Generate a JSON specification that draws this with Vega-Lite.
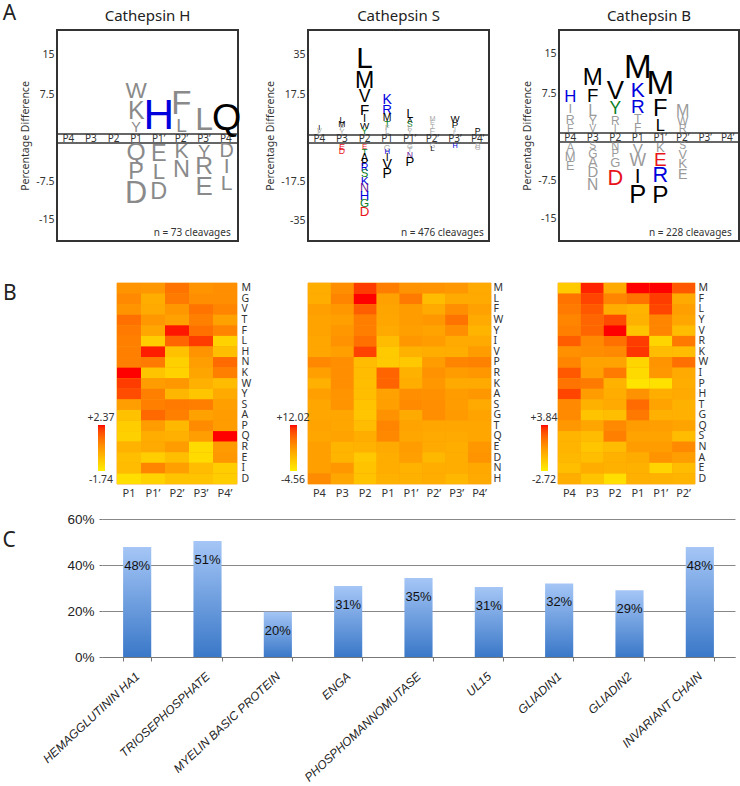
{"$schema":"https://vega.github.io/schema/vega-lite/v6.json","padding":{"left":2,"top":3,"right":0,"bottom":0},"background":"white","spacing":14,"resolve":{"scale":{"color":"independent","size":"independent"}},"config":{"view":{"stroke":null},"title":{"font":"Noto Sans","fontSize":15,"fontWeight":"normal","color":"#222","offset":6},"axis":{"labelFont":"Noto Sans","titleFont":"Noto Sans","labelColor":"#333","titleColor":"#333","titleFontWeight":"normal"},"legend":{"labelFont":"Noto Sans","labelColor":"#333","labelFontSize":10.5}},
"datasets":{
"strip":[{"pos":"P4","y":0},{"pos":"P3","y":0},{"pos":"P2","y":0},{"pos":"P1","y":0},{"pos":"P1’","y":0},{"pos":"P2’","y":0},{"pos":"P3’","y":0},{"pos":"P4’","y":0}],
"edges":[{"y":0.01},{"y":-0.01}],
"logoH":[
{"pos":"P1","letter":"W","y":8.07,"h":3.0,"group":"ns"},{"pos":"P1","letter":"K","y":4.13,"h":3.38,"group":"ns"},{"pos":"P1","letter":"Y","y":1.22,"h":1.69,"group":"ns"},{"pos":"P1","letter":"Q","y":-2.06,"h":3.33,"group":"ns"},{"pos":"P1","letter":"P","y":-5.69,"h":3.14,"group":"ns"},{"pos":"P1","letter":"D","y":-10,"h":4.31,"group":"ns"},
{"pos":"P1’","letter":"H","y":3.47,"h":6.19,"group":"basic"},{"pos":"P1’","letter":"E","y":-2.16,"h":3.14,"group":"ns"},{"pos":"P1’","letter":"L","y":-5.78,"h":2.94,"group":"ns"},{"pos":"P1’","letter":"D","y":-9.61,"h":3.14,"group":"ns"},
{"pos":"P2’","letter":"F","y":5.72,"h":4.69,"group":"ns"},{"pos":"P2’","letter":"L","y":1.59,"h":2.44,"group":"ns"},{"pos":"P2’","letter":"K","y":-1.76,"h":2.75,"group":"ns"},{"pos":"P2’","letter":"N","y":-5.29,"h":3.14,"group":"ns"},
{"pos":"P3’","letter":"L","y":2.63,"h":4.5,"group":"ns"},{"pos":"P3’","letter":"Y","y":-1.76,"h":2.35,"group":"ns"},{"pos":"P3’","letter":"R","y":-4.8,"h":3.33,"group":"ns"},{"pos":"P3’","letter":"E","y":-8.63,"h":3.53,"group":"ns"},
{"pos":"P4’","letter":"Q","y":2.91,"h":5.44,"group":"other"},{"pos":"P4’","letter":"D","y":-1.67,"h":2.55,"group":"ns"},{"pos":"P4’","letter":"I","y":-4.71,"h":2.75,"group":"ns"},{"pos":"P4’","letter":"L","y":-8.04,"h":2.75,"group":"ns"}],
"logoS":[
{"pos":"P4","letter":"I","y":2.97,"h":1.0,"group":"other"},{"pos":"P4","letter":"V","y":1.75,"h":0.9,"group":"ns"},{"pos":"P4","letter":"L","y":0.87,"h":0.8,"group":"ns"},
{"pos":"P3","letter":"L","y":6.55,"h":1.48,"group":"other"},{"pos":"P3","letter":"M","y":4.67,"h":1.44,"group":"other"},{"pos":"P3","letter":"F","y":2.93,"h":1.18,"group":"ns"},{"pos":"P3","letter":"Y","y":1.31,"h":1.14,"group":"ns"},{"pos":"P3","letter":"E","y":-1.88,"h":1.66,"group":"acidic"},{"pos":"P3","letter":"D","y":-3.72,"h":1.48,"group":"acidic"},
{"pos":"P2","letter":"L","y":33.2,"h":9.87,"group":"other"},{"pos":"P2","letter":"M","y":23.58,"h":7.25,"group":"other"},{"pos":"P2","letter":"V","y":16.68,"h":5.1,"group":"other"},{"pos":"P2","letter":"F","y":11.05,"h":4.06,"group":"other"},{"pos":"P2","letter":"I","y":7.07,"h":2.5,"group":"other"},{"pos":"P2","letter":"W","y":4.15,"h":1.92,"group":"other"},{"pos":"P2","letter":"Y","y":1.66,"h":1.88,"group":"polar"},
{"pos":"P2","letter":"E","y":-1.79,"h":1.17,"group":"acidic"},{"pos":"P2","letter":"T","y":-3.9,"h":1.8,"group":"polar"},{"pos":"P2","letter":"A","y":-6.64,"h":2.24,"group":"other"},{"pos":"P2","letter":"P","y":-9.1,"h":2.1,"group":"other"},{"pos":"P2","letter":"R","y":-11.43,"h":2.24,"group":"basic"},{"pos":"P2","letter":"S","y":-14.04,"h":2.38,"group":"polar"},{"pos":"P2","letter":"K","y":-17.17,"h":2.69,"group":"basic"},{"pos":"P2","letter":"N","y":-20.31,"h":3.0,"group":"amide"},{"pos":"P2","letter":"H","y":-23.9,"h":3.27,"group":"basic"},{"pos":"P2","letter":"G","y":-27.35,"h":2.69,"group":"polar"},{"pos":"P2","letter":"D","y":-31.39,"h":3.32,"group":"acidic"},
{"pos":"P1","letter":"K","y":15.2,"h":3.62,"group":"basic"},{"pos":"P1","letter":"R","y":11.0,"h":3.36,"group":"basic"},{"pos":"P1","letter":"M","y":7.51,"h":2.18,"group":"other"},{"pos":"P1","letter":"T","y":5.02,"h":1.92,"group":"polar"},{"pos":"P1","letter":"F","y":2.97,"h":1.0,"group":"ns"},{"pos":"P1","letter":"L","y":1.4,"h":1.31,"group":"ns"},{"pos":"P1","letter":"G","y":-2.38,"h":1.48,"group":"ns"},{"pos":"P1","letter":"H","y":-4.26,"h":1.08,"group":"basic"},{"pos":"P1","letter":"I","y":-6.64,"h":2.24,"group":"other"},{"pos":"P1","letter":"V","y":-9.96,"h":3.72,"group":"other"},{"pos":"P1","letter":"P","y":-14.04,"h":3.59,"group":"other"},
{"pos":"P1’","letter":"L","y":9.04,"h":2.93,"group":"other"},{"pos":"P1’","letter":"A","y":6.24,"h":1.18,"group":"other"},{"pos":"P1’","letter":"S","y":4.28,"h":1.31,"group":"polar"},{"pos":"P1’","letter":"F","y":2.51,"h":1,"group":"ns"},{"pos":"P1’","letter":"Y","y":1.22,"h":1,"group":"ns"},{"pos":"P1’","letter":"G","y":-1.7,"h":1.03,"group":"ns"},{"pos":"P1’","letter":"T","y":-3.05,"h":1,"group":"ns"},{"pos":"P1’","letter":"N","y":-5.52,"h":1.48,"group":"amide"},{"pos":"P1’","letter":"P","y":-8.65,"h":3.27,"group":"other"},
{"pos":"P2’","letter":"M","y":6.86,"h":0.9,"group":"ns"},{"pos":"P2’","letter":"E","y":5.11,"h":1,"group":"ns"},{"pos":"P2’","letter":"I","y":3.49,"h":1,"group":"ns"},{"pos":"P2’","letter":"F","y":1.62,"h":1.75,"group":"ns"},{"pos":"P2’","letter":"G","y":-1.57,"h":1,"group":"ns"},{"pos":"P2’","letter":"L","y":-2.83,"h":1.2,"group":"other"},
{"pos":"P3’","letter":"W","y":7.07,"h":1.88,"group":"other"},{"pos":"P3’","letter":"P","y":4.45,"h":1.88,"group":"other"},{"pos":"P3’","letter":"I","y":2.18,"h":0.9,"group":"ns"},{"pos":"P3’","letter":"L","y":1,"h":0.8,"group":"ns"},{"pos":"P3’","letter":"H","y":-1.35,"h":0.9,"group":"basic"},
{"pos":"P4’","letter":"P","y":1.75,"h":1.48,"group":"other"},{"pos":"P4’","letter":"D","y":-1.35,"h":0.8,"group":"ns"},{"pos":"P4’","letter":"G","y":-2.33,"h":1,"group":"ns"}],
"logoB":[
{"pos":"P4","letter":"H","y":6.83,"h":2.2,"group":"basic"},{"pos":"P4","letter":"I","y":4.62,"h":1.58,"group":"ns"},{"pos":"P4","letter":"R","y":2.49,"h":1.45,"group":"ns"},{"pos":"P4","letter":"F","y":0.75,"h":1.13,"group":"ns"},{"pos":"P4","letter":"A","y":-1.17,"h":1.44,"group":"ns"},{"pos":"P4","letter":"M","y":-2.92,"h":1.56,"group":"ns"},{"pos":"P4","letter":"E","y":-4.78,"h":1.48,"group":"ns"},
{"pos":"P3","letter":"M","y":10.4,"h":3.45,"group":"other"},{"pos":"P3","letter":"F","y":6.98,"h":2.53,"group":"other"},{"pos":"P3","letter":"L","y":4.25,"h":2.08,"group":"ns"},{"pos":"P3","letter":"Y","y":2.2,"h":1.38,"group":"ns"},{"pos":"P3","letter":"V","y":0.75,"h":1.13,"group":"ns"},{"pos":"P3","letter":"S","y":-0.88,"h":1.09,"group":"ns"},{"pos":"P3","letter":"G","y":-2.38,"h":1.36,"group":"ns"},{"pos":"P3","letter":"A","y":-4.15,"h":1.7,"group":"ns"},{"pos":"P3","letter":"D","y":-6.14,"h":1.87,"group":"ns"},{"pos":"P3","letter":"N","y":-8.42,"h":2.01,"group":"ns"},
{"pos":"P2","letter":"V","y":7.92,"h":3.77,"group":"other"},{"pos":"P2","letter":"Y","y":4.57,"h":2.32,"group":"polar"},{"pos":"P2","letter":"R","y":2.32,"h":1.38,"group":"ns"},{"pos":"P2","letter":"I","y":0.79,"h":1.08,"group":"ns"},{"pos":"P2","letter":"N","y":-0.94,"h":1.23,"group":"ns"},{"pos":"P2","letter":"P","y":-2.44,"h":1.25,"group":"ns"},{"pos":"P2","letter":"G","y":-4.09,"h":1.56,"group":"ns"},{"pos":"P2","letter":"D","y":-7.06,"h":3.06,"group":"acidic"},
{"pos":"P1","letter":"M","y":12.32,"h":5.03,"group":"other"},{"pos":"P1","letter":"K","y":8.02,"h":2.94,"group":"basic"},{"pos":"P1","letter":"R","y":4.94,"h":2.58,"group":"basic"},{"pos":"P1","letter":"T","y":2.68,"h":1.45,"group":"ns"},{"pos":"P1","letter":"F","y":0.94,"h":1.4,"group":"ns"},{"pos":"P1","letter":"V","y":-1.31,"h":1.95,"group":"ns"},{"pos":"P1","letter":"W","y":-3.7,"h":2.34,"group":"ns"},{"pos":"P1","letter":"I","y":-6.78,"h":2.92,"group":"other"},{"pos":"P1","letter":"P","y":-10.43,"h":3.7,"group":"other"},
{"pos":"P1’","letter":"M","y":9.19,"h":5.04,"group":"other"},{"pos":"P1’","letter":"F","y":4.47,"h":3.4,"group":"other"},{"pos":"P1’","letter":"L","y":1.32,"h":2.15,"group":"other"},{"pos":"P1’","letter":"K","y":-1.11,"h":1.56,"group":"ns"},{"pos":"P1’","letter":"E","y":-3.57,"h":2.59,"group":"acidic"},{"pos":"P1’","letter":"R","y":-6.73,"h":3.04,"group":"basic"},{"pos":"P1’","letter":"P","y":-10.53,"h":3.51,"group":"other"},
{"pos":"P2’","letter":"M","y":4.25,"h":2.08,"group":"ns"},{"pos":"P2’","letter":"W","y":2.32,"h":1.38,"group":"ns"},{"pos":"P2’","letter":"R","y":0.85,"h":1.2,"group":"ns"},{"pos":"P2’","letter":"S","y":-0.88,"h":1.09,"group":"ns"},{"pos":"P2’","letter":"V","y":-2.5,"h":1.5,"group":"ns"},{"pos":"P2’","letter":"K","y":-4.39,"h":1.64,"group":"ns"},{"pos":"P2’","letter":"E","y":-6.39,"h":1.75,"group":"ns"}],
"heatH":[
{"pos":"P1","aa":"M","v":0.4},{"pos":"P1’","aa":"M","v":0.32},{"pos":"P2’","aa":"M","v":1.05},{"pos":"P3’","aa":"M","v":0.4},{"pos":"P4’","aa":"M","v":0.52},
{"pos":"P1","aa":"G","v":0.64},{"pos":"P1’","aa":"G","v":-0.18},{"pos":"P2’","aa":"G","v":0.93},{"pos":"P3’","aa":"G","v":0.52},{"pos":"P4’","aa":"G","v":0.52},
{"pos":"P1","aa":"V","v":0.4},{"pos":"P1’","aa":"V","v":-0.1},{"pos":"P2’","aa":"V","v":0.32},{"pos":"P3’","aa":"V","v":1.05},{"pos":"P4’","aa":"V","v":0.73},
{"pos":"P1","aa":"T","v":1.14},{"pos":"P1’","aa":"T","v":0.32},{"pos":"P2’","aa":"T","v":0.11},{"pos":"P3’","aa":"T","v":0.81},{"pos":"P4’","aa":"T","v":0.11},
{"pos":"P1","aa":"F","v":0.93},{"pos":"P1’","aa":"F","v":-0.01},{"pos":"P2’","aa":"F","v":2.29},{"pos":"P3’","aa":"F","v":1.14},{"pos":"P4’","aa":"F","v":0.73},
{"pos":"P1","aa":"L","v":0.81},{"pos":"P1’","aa":"L","v":-0.92},{"pos":"P2’","aa":"L","v":1.34},{"pos":"P3’","aa":"L","v":1.96},{"pos":"P4’","aa":"L","v":-1.04},
{"pos":"P1","aa":"H","v":0.81},{"pos":"P1’","aa":"H","v":2.25},{"pos":"P2’","aa":"H","v":-0.63},{"pos":"P3’","aa":"H","v":0.4},{"pos":"P4’","aa":"H","v":-0.59},
{"pos":"P1","aa":"N","v":0.81},{"pos":"P1’","aa":"N","v":0.93},{"pos":"P2’","aa":"N","v":-1.0},{"pos":"P3’","aa":"N","v":0.19},{"pos":"P4’","aa":"N","v":1.22},
{"pos":"P1","aa":"K","v":2.37},{"pos":"P1’","aa":"K","v":-0.71},{"pos":"P2’","aa":"K","v":-1.04},{"pos":"P3’","aa":"K","v":0.03},{"pos":"P4’","aa":"K","v":0.81},
{"pos":"P1","aa":"W","v":1.96},{"pos":"P1’","aa":"W","v":0.23},{"pos":"P2’","aa":"W","v":0.32},{"pos":"P3’","aa":"W","v":-0.22},{"pos":"P4’","aa":"W","v":-0.51},
{"pos":"P1","aa":"Y","v":1.75},{"pos":"P1’","aa":"Y","v":0.81},{"pos":"P2’","aa":"Y","v":-0.38},{"pos":"P3’","aa":"Y","v":-0.75},{"pos":"P4’","aa":"Y","v":-0.1},
{"pos":"P1","aa":"S","v":0.19},{"pos":"P1’","aa":"S","v":0.81},{"pos":"P2’","aa":"S","v":0.93},{"pos":"P3’","aa":"S","v":0.85},{"pos":"P4’","aa":"S","v":0.15},
{"pos":"P1","aa":"A","v":-0.63},{"pos":"P1’","aa":"A","v":1.26},{"pos":"P2’","aa":"A","v":0.81},{"pos":"P3’","aa":"A","v":0.11},{"pos":"P4’","aa":"A","v":0.23},
{"pos":"P1","aa":"P","v":-0.92},{"pos":"P1’","aa":"P","v":0.23},{"pos":"P2’","aa":"P","v":-0.42},{"pos":"P3’","aa":"P","v":0.56},{"pos":"P4’","aa":"P","v":0.23},
{"pos":"P1","aa":"Q","v":-1.0},{"pos":"P1’","aa":"Q","v":-0.18},{"pos":"P2’","aa":"Q","v":-0.22},{"pos":"P3’","aa":"Q","v":0.19},{"pos":"P4’","aa":"Q","v":2.37},
{"pos":"P1","aa":"R","v":-0.3},{"pos":"P1’","aa":"R","v":-0.1},{"pos":"P2’","aa":"R","v":0.23},{"pos":"P3’","aa":"R","v":-1.25},{"pos":"P4’","aa":"R","v":0.27},
{"pos":"P1","aa":"E","v":-0.59},{"pos":"P1’","aa":"E","v":-0.92},{"pos":"P2’","aa":"E","v":-0.59},{"pos":"P3’","aa":"E","v":-1.25},{"pos":"P4’","aa":"E","v":0.32},
{"pos":"P1","aa":"I","v":-0.51},{"pos":"P1’","aa":"I","v":0.73},{"pos":"P2’","aa":"I","v":0.15},{"pos":"P3’","aa":"I","v":-0.51},{"pos":"P4’","aa":"I","v":-0.92},
{"pos":"P1","aa":"D","v":-1.33},{"pos":"P1’","aa":"D","v":-1.04},{"pos":"P2’","aa":"D","v":-0.67},{"pos":"P3’","aa":"D","v":-0.67},{"pos":"P4’","aa":"D","v":-0.92}],
"heatS":[
{"pos":"P4","aa":"M","v":1.74},{"pos":"P3","aa":"M","v":4.56},{"pos":"P2","aa":"M","v":10.36},{"pos":"P1","aa":"M","v":5.89},{"pos":"P1’","aa":"M","v":4.23},{"pos":"P2’","aa":"M","v":4.06},{"pos":"P3’","aa":"M","v":3.73},{"pos":"P4’","aa":"M","v":2.07},
{"pos":"P4","aa":"L","v":1.74},{"pos":"P3","aa":"L","v":5.39},{"pos":"P2","aa":"L","v":12.02},{"pos":"P1","aa":"L","v":2.9},{"pos":"P1’","aa":"L","v":6.22},{"pos":"P2’","aa":"L","v":0.41},{"pos":"P3’","aa":"L","v":2.07},{"pos":"P4’","aa":"L","v":2.07},
{"pos":"P4","aa":"F","v":3.07},{"pos":"P3","aa":"F","v":3.73},{"pos":"P2","aa":"F","v":8.37},{"pos":"P1","aa":"F","v":2.57},{"pos":"P1’","aa":"F","v":3.23},{"pos":"P2’","aa":"F","v":2.07},{"pos":"P3’","aa":"F","v":4.56},{"pos":"P4’","aa":"F","v":2.9},
{"pos":"P4","aa":"W","v":2.74},{"pos":"P3","aa":"W","v":3.07},{"pos":"P2","aa":"W","v":5.89},{"pos":"P1","aa":"W","v":2.4},{"pos":"P1’","aa":"W","v":3.4},{"pos":"P2’","aa":"W","v":3.73},{"pos":"P3’","aa":"W","v":6.71},{"pos":"P4’","aa":"W","v":2.07},
{"pos":"P4","aa":"Y","v":2.74},{"pos":"P3","aa":"Y","v":3.73},{"pos":"P2","aa":"Y","v":5.89},{"pos":"P1","aa":"Y","v":2.07},{"pos":"P1’","aa":"Y","v":3.07},{"pos":"P2’","aa":"Y","v":2.74},{"pos":"P3’","aa":"Y","v":4.56},{"pos":"P4’","aa":"Y","v":1.08},
{"pos":"P4","aa":"I","v":2.4},{"pos":"P3","aa":"I","v":4.23},{"pos":"P2","aa":"I","v":7.05},{"pos":"P1","aa":"I","v":0.41},{"pos":"P1’","aa":"I","v":3.73},{"pos":"P2’","aa":"I","v":3.23},{"pos":"P3’","aa":"I","v":2.07},{"pos":"P4’","aa":"I","v":2.07},
{"pos":"P4","aa":"V","v":2.4},{"pos":"P3","aa":"V","v":3.07},{"pos":"P2","aa":"V","v":10.03},{"pos":"P1","aa":"V","v":-0.91},{"pos":"P1’","aa":"V","v":1.41},{"pos":"P2’","aa":"V","v":1.74},{"pos":"P3’","aa":"V","v":1.74},{"pos":"P4’","aa":"V","v":3.23},
{"pos":"P4","aa":"P","v":5.06},{"pos":"P3","aa":"P","v":4.56},{"pos":"P2","aa":"P","v":0.41},{"pos":"P1","aa":"P","v":-0.91},{"pos":"P1’","aa":"P","v":-0.75},{"pos":"P2’","aa":"P","v":3.4},{"pos":"P3’","aa":"P","v":5.39},{"pos":"P4’","aa":"P","v":5.72},
{"pos":"P4","aa":"R","v":3.07},{"pos":"P3","aa":"R","v":4.56},{"pos":"P2","aa":"R","v":0.41},{"pos":"P1","aa":"R","v":7.88},{"pos":"P1’","aa":"R","v":1.41},{"pos":"P2’","aa":"R","v":4.23},{"pos":"P3’","aa":"R","v":3.23},{"pos":"P4’","aa":"R","v":3.73},
{"pos":"P4","aa":"K","v":1.57},{"pos":"P3","aa":"K","v":4.56},{"pos":"P2","aa":"K","v":0.08},{"pos":"P1","aa":"K","v":7.88},{"pos":"P1’","aa":"K","v":1.74},{"pos":"P2’","aa":"K","v":3.73},{"pos":"P3’","aa":"K","v":2.07},{"pos":"P4’","aa":"K","v":2.07},
{"pos":"P4","aa":"A","v":3.07},{"pos":"P3","aa":"A","v":4.06},{"pos":"P2","aa":"A","v":0.08},{"pos":"P1","aa":"A","v":2.9},{"pos":"P1’","aa":"A","v":4.56},{"pos":"P2’","aa":"A","v":4.39},{"pos":"P3’","aa":"A","v":3.23},{"pos":"P4’","aa":"A","v":3.73},
{"pos":"P4","aa":"S","v":2.4},{"pos":"P3","aa":"S","v":4.06},{"pos":"P2","aa":"S","v":-0.25},{"pos":"P1","aa":"S","v":3.07},{"pos":"P1’","aa":"S","v":4.89},{"pos":"P2’","aa":"S","v":4.56},{"pos":"P3’","aa":"S","v":3.4},{"pos":"P4’","aa":"S","v":2.07},
{"pos":"P4","aa":"G","v":2.4},{"pos":"P3","aa":"G","v":2.4},{"pos":"P2","aa":"G","v":-0.42},{"pos":"P1","aa":"G","v":4.23},{"pos":"P1’","aa":"G","v":2.07},{"pos":"P2’","aa":"G","v":4.56},{"pos":"P3’","aa":"G","v":3.56},{"pos":"P4’","aa":"G","v":2.74},
{"pos":"P4","aa":"T","v":2.74},{"pos":"P3","aa":"T","v":2.4},{"pos":"P2","aa":"T","v":0.41},{"pos":"P1","aa":"T","v":5.39},{"pos":"P1’","aa":"T","v":2.74},{"pos":"P2’","aa":"T","v":2.4},{"pos":"P3’","aa":"T","v":2.4},{"pos":"P4’","aa":"T","v":2.4},
{"pos":"P4","aa":"Q","v":2.4},{"pos":"P3","aa":"Q","v":2.74},{"pos":"P2","aa":"Q","v":1.74},{"pos":"P1","aa":"Q","v":5.06},{"pos":"P1’","aa":"Q","v":2.4},{"pos":"P2’","aa":"Q","v":2.07},{"pos":"P3’","aa":"Q","v":2.07},{"pos":"P4’","aa":"Q","v":2.4},
{"pos":"P4","aa":"E","v":3.07},{"pos":"P3","aa":"E","v":1.08},{"pos":"P2","aa":"E","v":1.24},{"pos":"P1","aa":"E","v":2.07},{"pos":"P1’","aa":"E","v":3.4},{"pos":"P2’","aa":"E","v":2.07},{"pos":"P3’","aa":"E","v":1.74},{"pos":"P4’","aa":"E","v":3.73},
{"pos":"P4","aa":"D","v":3.07},{"pos":"P3","aa":"D","v":1.08},{"pos":"P2","aa":"D","v":-0.75},{"pos":"P1","aa":"D","v":1.74},{"pos":"P1’","aa":"D","v":3.07},{"pos":"P2’","aa":"D","v":0.75},{"pos":"P3’","aa":"D","v":1.74},{"pos":"P4’","aa":"D","v":4.06},
{"pos":"P4","aa":"N","v":3.07},{"pos":"P3","aa":"N","v":3.73},{"pos":"P2","aa":"N","v":-0.25},{"pos":"P1","aa":"N","v":1.74},{"pos":"P1’","aa":"N","v":1.24},{"pos":"P2’","aa":"N","v":1.74},{"pos":"P3’","aa":"N","v":1.74},{"pos":"P4’","aa":"N","v":2.24},
{"pos":"P4","aa":"H","v":4.72},{"pos":"P3","aa":"H","v":2.4},{"pos":"P2","aa":"H","v":-0.25},{"pos":"P1","aa":"H","v":1.41},{"pos":"P1’","aa":"H","v":1.41},{"pos":"P2’","aa":"H","v":1.74},{"pos":"P3’","aa":"H","v":0.91},{"pos":"P4’","aa":"H","v":2.07}],
"heatB":[
{"pos":"P4","aa":"M","v":-1.28},{"pos":"P3","aa":"M","v":3.58},{"pos":"P2","aa":"M","v":-0.1},{"pos":"P1","aa":"M","v":3.84},{"pos":"P1’","aa":"M","v":3.84},{"pos":"P2’","aa":"M","v":2.53},
{"pos":"P4","aa":"F","v":1.74},{"pos":"P3","aa":"F","v":3.05},{"pos":"P2","aa":"F","v":1.22},{"pos":"P1","aa":"F","v":1.74},{"pos":"P1’","aa":"F","v":3.18},{"pos":"P2’","aa":"F","v":-0.1},
{"pos":"P4","aa":"L","v":1.54},{"pos":"P3","aa":"L","v":2.53},{"pos":"P2","aa":"L","v":-0.23},{"pos":"P1","aa":"L","v":-0.49},{"pos":"P1’","aa":"L","v":2.99},{"pos":"P2’","aa":"L","v":0.3},
{"pos":"P4","aa":"Y","v":1.22},{"pos":"P3","aa":"Y","v":2.2},{"pos":"P2","aa":"Y","v":2.86},{"pos":"P1","aa":"Y","v":-0.36},{"pos":"P1’","aa":"Y","v":1.22},{"pos":"P2’","aa":"Y","v":0.04},
{"pos":"P4","aa":"V","v":1.41},{"pos":"P3","aa":"V","v":2.2},{"pos":"P2","aa":"V","v":3.84},{"pos":"P1","aa":"V","v":-1.08},{"pos":"P1’","aa":"V","v":1.22},{"pos":"P2’","aa":"V","v":-0.75},
{"pos":"P4","aa":"R","v":2.4},{"pos":"P3","aa":"R","v":1.08},{"pos":"P2","aa":"R","v":1.87},{"pos":"P1","aa":"R","v":3.18},{"pos":"P1’","aa":"R","v":-1.74},{"pos":"P2’","aa":"R","v":1.61},
{"pos":"P4","aa":"K","v":0.82},{"pos":"P3","aa":"K","v":0.95},{"pos":"P2","aa":"K","v":1.08},{"pos":"P1","aa":"K","v":3.32},{"pos":"P1’","aa":"K","v":-0.75},{"pos":"P2’","aa":"K","v":-0.75},
{"pos":"P4","aa":"W","v":1.22},{"pos":"P3","aa":"W","v":0.17},{"pos":"P2","aa":"W","v":0.17},{"pos":"P1","aa":"W","v":-1.74},{"pos":"P1’","aa":"W","v":0.69},{"pos":"P2’","aa":"W","v":1.87},
{"pos":"P4","aa":"I","v":2.53},{"pos":"P3","aa":"I","v":0.3},{"pos":"P2","aa":"I","v":1.54},{"pos":"P1","aa":"I","v":-1.93},{"pos":"P1’","aa":"I","v":0.56},{"pos":"P2’","aa":"I","v":-0.1},
{"pos":"P4","aa":"P","v":1.74},{"pos":"P3","aa":"P","v":1.54},{"pos":"P2","aa":"P","v":-0.42},{"pos":"P1","aa":"P","v":-2.33},{"pos":"P1’","aa":"P","v":-2.2},{"pos":"P2’","aa":"P","v":-0.23},
{"pos":"P4","aa":"H","v":2.99},{"pos":"P3","aa":"H","v":0.43},{"pos":"P2","aa":"H","v":-0.23},{"pos":"P1","aa":"H","v":0.76},{"pos":"P1’","aa":"H","v":-0.23},{"pos":"P2’","aa":"H","v":-0.1},
{"pos":"P4","aa":"T","v":1.08},{"pos":"P3","aa":"T","v":-0.36},{"pos":"P2","aa":"T","v":-0.1},{"pos":"P1","aa":"T","v":2.0},{"pos":"P1’","aa":"T","v":0.17},{"pos":"P2’","aa":"T","v":-0.36},
{"pos":"P4","aa":"G","v":1.02},{"pos":"P3","aa":"G","v":-1.01},{"pos":"P2","aa":"G","v":-0.88},{"pos":"P1","aa":"G","v":1.61},{"pos":"P1’","aa":"G","v":-0.29},{"pos":"P2’","aa":"G","v":-0.29},
{"pos":"P4","aa":"Q","v":0.56},{"pos":"P3","aa":"Q","v":0.1},{"pos":"P2","aa":"Q","v":1.08},{"pos":"P1","aa":"Q","v":0.43},{"pos":"P1’","aa":"Q","v":0.36},{"pos":"P2’","aa":"Q","v":0.17},
{"pos":"P4","aa":"S","v":-0.49},{"pos":"P3","aa":"S","v":-0.75},{"pos":"P2","aa":"S","v":1.41},{"pos":"P1","aa":"S","v":0.17},{"pos":"P1’","aa":"S","v":0.17},{"pos":"P2’","aa":"S","v":-0.75},
{"pos":"P4","aa":"N","v":-0.49},{"pos":"P3","aa":"N","v":-1.15},{"pos":"P2","aa":"N","v":-0.75},{"pos":"P1","aa":"N","v":0.43},{"pos":"P1’","aa":"N","v":0.43},{"pos":"P2’","aa":"N","v":1.02},
{"pos":"P4","aa":"A","v":-0.62},{"pos":"P3","aa":"A","v":-0.88},{"pos":"P2","aa":"A","v":-0.36},{"pos":"P1","aa":"A","v":-0.16},{"pos":"P1’","aa":"A","v":0.69},{"pos":"P2’","aa":"A","v":0.36},
{"pos":"P4","aa":"E","v":-0.88},{"pos":"P3","aa":"E","v":-0.23},{"pos":"P2","aa":"E","v":-0.36},{"pos":"P1","aa":"E","v":-0.36},{"pos":"P1’","aa":"E","v":-1.67},{"pos":"P2’","aa":"E","v":-0.75},
{"pos":"P4","aa":"D","v":-0.23},{"pos":"P3","aa":"D","v":-1.01},{"pos":"P2","aa":"D","v":-2.06},{"pos":"P1","aa":"D","v":-0.29},{"pos":"P1’","aa":"D","v":-0.36},{"pos":"P2’","aa":"D","v":-0.49}],
"bars":[{"protein":"HEMAGGLUTININ HA1","pct":47.8,"label":"48%"},{"protein":"TRIOSEPHOSPHATE","pct":50.4,"label":"51%"},{"protein":"MYELIN BASIC PROTEIN","pct":19.7,"label":"20%"},{"protein":"ENGA","pct":30.9,"label":"31%"},{"protein":"PHOSPHOMANNOMUTASE","pct":34.3,"label":"35%"},{"protein":"UL15","pct":30.4,"label":"31%"},{"protein":"GLIADIN1","pct":32,"label":"32%"},{"protein":"GLIADIN2","pct":29,"label":"29%"},{"protein":"INVARIANT CHAIN","pct":47.8,"label":"48%"}]
},
"vconcat":[
{"title":{"text":"A","anchor":"start","fontSize":21,"offset":0,"dx":-17,"dy":16},"bounds":"flush","spacing":70,"resolve":{"scale":{"color":"independent","size":"independent"}},"hconcat":[
{"width":181,"height":211,"view":{"stroke":"#333","strokeWidth":2},"title":"Cathepsin H",
"encoding":{"y":{"field":"y","type":"quantitative","scale":{"domain":[-19.2,-0.01,0.01,19.5],"range":[211,113,104,0],"nice":false,"zero":false},"axis":{"values":[-15,-7.5,7.5,15],"labelExpr":"''+datum.value","grid":false,"domain":false,"ticks":false,"labelFontSize":10.5,"labelPadding":3,"title":"Percentage Difference","titleFontSize":10.5,"titlePadding":5}}},
"layer":[
{"data":{"name":"edges"},"mark":{"type":"rule","stroke":"#333","strokeWidth":1.5},"encoding":{}},
{"data":{"name":"strip"},"mark":{"type":"text","font":"Noto Sans","fontSize":10,"color":"#333"},"encoding":{"x":{"field":"pos","type":"nominal","axis":null,"scale":{"domain":["P4","P3","P2","P1","P1’","P2’","P3’","P4’"],"paddingInner":0,"paddingOuter":0}},"text":{"field":"pos"}}},
{"data":{"name":"logoH"},"mark":{"type":"text","font":"Liberation Sans","baseline":"middle"},"encoding":{"x":{"field":"pos","type":"nominal","axis":null},"text":{"field":"letter"},"size":{"field":"h","type":"quantitative","legend":null,"scale":{"domain":[0,10],"range":[4,66]}},"color":{"field":"group","type":"nominal","legend":null,"scale":{"domain":["other","basic","acidic","polar","amide","ns"],"range":["#000000","#0000dd","#e8141c","#0a7d1e","#6a1b9a","#8a8a8a"]}}}},
{"data":{"values":[{"pos":"P4’","y":-17.6,"note":"n = 73 cleavages"}]},"mark":{"type":"text","font":"Noto Sans","fontSize":10,"align":"right","dx":4,"color":"#333"},"encoding":{"x":{"field":"pos","type":"nominal","axis":null},"text":{"field":"note"}}}
]},
{"width":181,"height":211,"view":{"stroke":"#333","strokeWidth":2},"title":"Cathepsin S",
"encoding":{"y":{"field":"y","type":"quantitative","scale":{"domain":[-44.4,-0.01,0.01,45.9],"range":[211,113,105,0],"nice":false,"zero":false},"axis":{"values":[-35,-17.5,17.5,35],"labelExpr":"''+datum.value","grid":false,"domain":false,"ticks":false,"labelFontSize":10.5,"labelPadding":3,"title":"Percentage Difference","titleFontSize":10.5,"titlePadding":5}}},
"layer":[
{"data":{"name":"edges"},"mark":{"type":"rule","stroke":"#333","strokeWidth":1.5},"encoding":{}},
{"data":{"name":"strip"},"mark":{"type":"text","font":"Noto Sans","fontSize":10,"color":"#333"},"encoding":{"x":{"field":"pos","type":"nominal","axis":null,"scale":{"domain":["P4","P3","P2","P1","P1’","P2’","P3’","P4’"],"paddingInner":0,"paddingOuter":0}},"text":{"field":"pos"}}},
{"data":{"name":"logoS"},"mark":{"type":"text","font":"Liberation Sans","baseline":"middle"},"encoding":{"x":{"field":"pos","type":"nominal","axis":null},"text":{"field":"letter"},"size":{"field":"h","type":"quantitative","legend":null,"scale":{"domain":[0,10],"range":[5,30]}},"color":{"field":"group","type":"nominal","legend":null,"scale":{"domain":["other","basic","acidic","polar","amide","ns"],"range":["#000000","#0000dd","#e8141c","#0a7d1e","#6a1b9a","#aaaaaa"]}}}},
{"data":{"values":[{"pos":"P4’","y":-40.8,"note":"n = 476 cleavages"}]},"mark":{"type":"text","font":"Noto Sans","fontSize":10,"align":"right","dx":6,"color":"#333"},"encoding":{"x":{"field":"pos","type":"nominal","axis":null},"text":{"field":"note"}}}
]},
{"width":180,"height":211,"view":{"stroke":"#333","strokeWidth":2},"title":"Cathepsin B",
"encoding":{"y":{"field":"y","type":"quantitative","scale":{"domain":[-19.3,-0.01,0.01,19.43],"range":[211,112,103,0],"nice":false,"zero":false},"axis":{"values":[-15,-7.5,7.5,15],"labelExpr":"''+datum.value","grid":false,"domain":false,"ticks":false,"labelFontSize":10.5,"labelPadding":3,"title":"Percentage Difference","titleFontSize":10.5,"titlePadding":5}}},
"layer":[
{"data":{"name":"edges"},"mark":{"type":"rule","stroke":"#333","strokeWidth":1.5},"encoding":{}},
{"data":{"name":"strip"},"mark":{"type":"text","font":"Noto Sans","fontSize":10,"color":"#333"},"encoding":{"x":{"field":"pos","type":"nominal","axis":null,"scale":{"domain":["P4","P3","P2","P1","P1’","P2’","P3’","P4’"],"paddingInner":0,"paddingOuter":0}},"text":{"field":"pos"}}},
{"data":{"name":"logoB"},"mark":{"type":"text","font":"Liberation Sans","baseline":"middle"},"encoding":{"x":{"field":"pos","type":"nominal","axis":null},"text":{"field":"letter"},"size":{"field":"h","type":"quantitative","legend":null,"scale":{"domain":[0,10],"range":[4,62]}},"color":{"field":"group","type":"nominal","legend":null,"scale":{"domain":["other","basic","acidic","polar","amide","ns"],"range":["#000000","#0000dd","#e8141c","#0a7d1e","#6a1b9a","#9a9a9a"]}}}},
{"data":{"values":[{"pos":"P4’","y":-17.7,"note":"n = 228 cleavages"}]},"mark":{"type":"text","font":"Noto Sans","fontSize":10,"align":"right","dx":4,"color":"#333"},"encoding":{"x":{"field":"pos","type":"nominal","axis":null},"text":{"field":"note"}}}
]}
]},
{"title":{"text":"B","anchor":"start","fontSize":21,"offset":0,"dx":-54,"dy":48},"bounds":"flush","spacing":67,"resolve":{"scale":{"color":"independent"}},"hconcat":[
{"width":180,"height":228,"data":{"name":"heatH"},"encoding":{
"x":{"field":"pos","type":"nominal","sort":null,"scale":{"range":[60,180],"paddingInner":0,"paddingOuter":0},"axis":{"title":null,"labelAngle":0,"domain":false,"ticks":false,"labelFontSize":11,"labelPadding":3}},
"y":{"field":"aa","type":"nominal","sort":null,"scale":{"range":[27,228],"paddingInner":0,"paddingOuter":0},"axis":{"orient":"right","title":null,"domain":false,"ticks":false,"labelFontSize":10.5,"labelPadding":4}}},
"layer":[{"mark":{"type":"rect","color":"#ff9a00","stroke":"#ff9a00","strokeWidth":0.8}},{"mark":{"type":"rect"},"encoding":{"color":{"field":"v","type":"quantitative","scale":{"domain":[-1.74,2.37],"range":["#ffee00","#ff0000"],"clamp":true},"legend":{"type":"gradient","orient":"none","legendX":41,"legendY":169,"title":null,"direction":"vertical","gradientLength":46,"gradientThickness":7,"gradientStrokeWidth":0,"values":[-1.74,2.37],"labelExpr":"datum.value>0?'+'+datum.value:''+datum.value","labelOverlap":false,"labelOffset":-4,"encode":{"labels":{"update":{"align":{"value":"center"},"dy":{"signal":"datum.value>0?-12:14"}}}}}}}}]},
{"width":187,"height":228,"data":{"name":"heatS"},"encoding":{
"x":{"field":"pos","type":"nominal","sort":null,"scale":{"range":[4,187],"paddingInner":0,"paddingOuter":0},"axis":{"title":null,"labelAngle":0,"domain":false,"ticks":false,"labelFontSize":11,"labelPadding":3}},
"y":{"field":"aa","type":"nominal","sort":null,"scale":{"range":[27,228],"paddingInner":0,"paddingOuter":0},"axis":{"orient":"right","title":null,"domain":false,"ticks":false,"labelFontSize":10.5,"labelPadding":2}}},
"layer":[{"mark":{"type":"rect","color":"#ff9a00","stroke":"#ff9a00","strokeWidth":0.8}},{"mark":{"type":"rect"},"encoding":{"color":{"field":"v","type":"quantitative","scale":{"domain":[-4.56,12.02],"range":["#ffee00","#ff0000"],"clamp":true},"legend":{"type":"gradient","orient":"none","legendX":-14,"legendY":169,"title":null,"direction":"vertical","gradientLength":46,"gradientThickness":7,"gradientStrokeWidth":0,"values":[-4.56,12.02],"labelExpr":"datum.value>0?'+'+datum.value:''+datum.value","labelOverlap":false,"labelOffset":-4,"encode":{"labels":{"update":{"align":{"value":"center"},"dy":{"signal":"datum.value>0?-12:14"}}}}}}}}]},
{"width":137,"height":228,"data":{"name":"heatB"},"encoding":{
"x":{"field":"pos","type":"nominal","sort":null,"scale":{"paddingInner":0,"paddingOuter":0},"axis":{"title":null,"labelAngle":0,"domain":false,"ticks":false,"labelFontSize":11,"labelPadding":3}},
"y":{"field":"aa","type":"nominal","sort":null,"scale":{"range":[27,228],"paddingInner":0,"paddingOuter":0},"axis":{"orient":"right","title":null,"domain":false,"ticks":false,"labelFontSize":10.5,"labelPadding":3}}},
"layer":[{"mark":{"type":"rect","color":"#ff9a00","stroke":"#ff9a00","strokeWidth":0.8}},{"mark":{"type":"rect"},"encoding":{"color":{"field":"v","type":"quantitative","scale":{"domain":[-2.72,3.84],"range":["#ffee00","#ff0000"],"clamp":true},"legend":{"type":"gradient","orient":"none","legendX":-17,"legendY":169,"title":null,"direction":"vertical","gradientLength":46,"gradientThickness":7,"gradientStrokeWidth":0,"values":[-2.72,3.84],"labelExpr":"datum.value>0?'+'+datum.value:''+datum.value","labelOverlap":false,"labelOffset":-4,"encode":{"labels":{"update":{"align":{"value":"center"},"dy":{"signal":"datum.value>0?-12:14"}}}}}}}}]}
]},
{"title":{"text":"C","anchor":"start","fontSize":21,"offset":0,"dx":-38,"dy":39},"bounds":"flush","spacing":44,"hconcat":[
{"width":1,"height":1,"data":{"values":[{"s":1}]},"mark":{"type":"point","opacity":0},"encoding":{}},
{"width":633,"height":138,"data":{"name":"bars"},
"encoding":{"x":{"field":"protein","type":"nominal","sort":null,"scale":{"paddingInner":0.6,"paddingOuter":0.3},"axis":{"title":null,"labelAngle":-43,"labelAlign":"right","labelBaseline":"middle","labelFont":"Liberation Sans","labelFontStyle":"italic","labelFontSize":12,"labelColor":"#222","labelPadding":13,"labelLimit":0,"tickBand":"extent","tickSize":4,"tickColor":"#777","domainColor":"#777"}},
"y":{"field":"pct","type":"quantitative","scale":{"domain":[0,60],"nice":false},"axis":{"title":null,"values":[0,20,40,60],"labelExpr":"datum.value+'%'","labelFont":"Liberation Sans","labelFontSize":13.5,"labelColor":"#222","labelPadding":5,"tickSize":3,"tickColor":"#777","domain":false,"grid":true,"gridColor":"#888","gridWidth":1}}},
"layer":[
{"mark":{"type":"bar","color":{"gradient":"linear","x1":0,"y1":0,"x2":0,"y2":1,"stops":[{"offset":0,"color":"#a5c6f6"},{"offset":1,"color":"#3a78c8"}]}}},
{"mark":{"type":"text","font":"Liberation Sans","fontSize":13,"color":"#111","dy":19},"encoding":{"text":{"field":"label"}}}
]}
]}
]}
